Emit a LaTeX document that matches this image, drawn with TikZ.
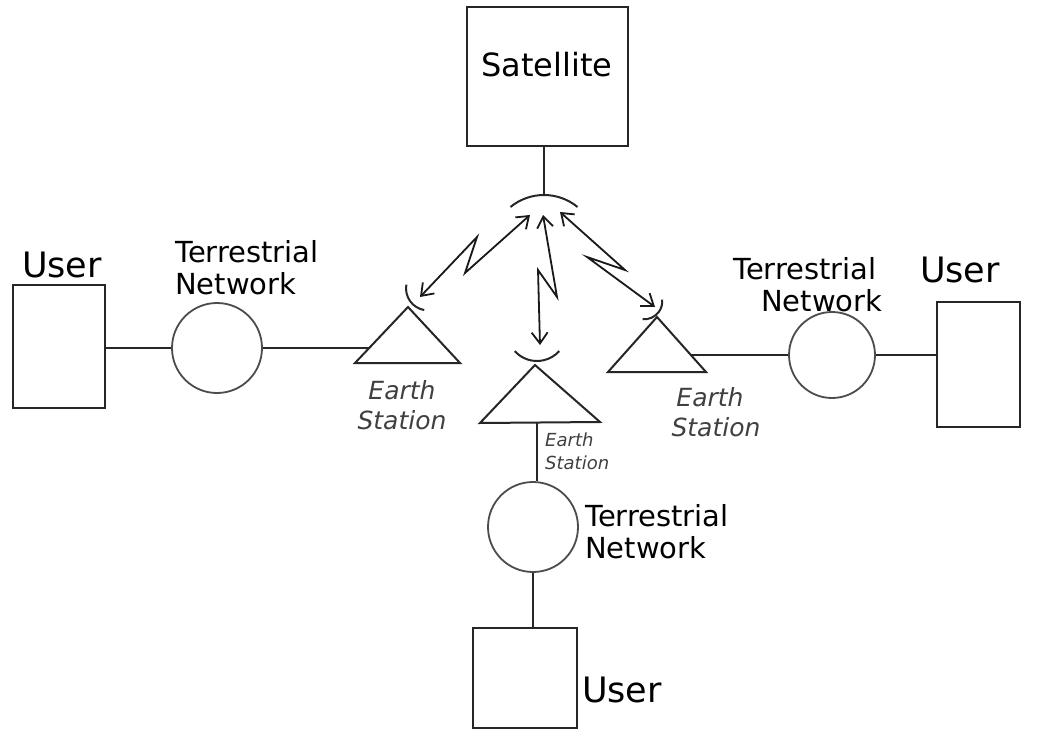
\documentclass[tikz,border=0pt]{standalone}
\usepackage{fontspec}
\setmainfont{DejaVu Sans}
\usetikzlibrary{arrows.meta}
\begin{document}
\begin{tikzpicture}[x=1pt,y=1pt,
  ln/.style={line width=2pt, black!85},
  boxn/.style={draw, line width=2pt, black!85, inner sep=0pt},
  circn/.style={draw, circle, line width=1.8pt, black!70, inner sep=0pt, minimum size=90pt},
  lbl/.style={font=\fontsize{29}{32}\selectfont, inner sep=0pt, align=left},
  usr/.style={font=\fontsize{35}{38}\selectfont, inner sep=0pt},
  es/.style={font=\itshape\fontsize{25}{30}\selectfont, inner sep=0pt, align=center, black!75},
  zz/.style={line width=1.8pt, black!90, {Straight Barb[length=11pt,width=16pt]}-{Straight Barb[length=11pt,width=16pt]}}]
\useasboundingbox (0,0) rectangle (1043,732);
\fill[white] (0,0) rectangle (1043,732);

% Satellite
\node[boxn, minimum width=161pt, minimum height=139pt] (sat) at (547.5,655.5) {};
\node[lbl, font=\fontsize{32}{34}\selectfont] (satlbl) at (547,667) {Satellite};
\coordinate (sd) at (544,537);
\draw[ln] (sat.south -| sd) -- (sd);
\draw[ln] ([shift={(270:52.8)}]sd) ++(50.6:52.8) arc[start angle=50.6, end angle=129.4, radius=52.8];

% Left earth station
\coordinate (lA) at (408,425);
\coordinate (lL) at (355,369);
\coordinate (lR) at (460,369);
\draw[ln] (lL) -- (lA) -- (lR) -- cycle;
\coordinate (ld) at (410,431);
\draw[ln] ([shift={(35:22)}]ld) ++(170:22) arc[start angle=170, end angle=260, radius=22];
\coordinate (lin) at (369,384);

% Middle earth station
\coordinate (mA) at (535,367);
\coordinate (mL) at (480,309);
\coordinate (mR) at (600,310);
\coordinate (mB) at (537,309.5);
\draw[ln] (mL) -- (mA) -- (mR) -- cycle;
\coordinate (md) at (537,371);
\draw[ln] ([shift={(90:30)}]md) ++(222:30) arc[start angle=222, end angle=318, radius=30];

% Right earth station
\coordinate (rA) at (657,415);
\coordinate (rL) at (608,360);
\coordinate (rR) at (706,360);
\draw[ln] (rL) -- (rA) -- (rR) -- cycle;
\coordinate (rd) at (657,418);
\draw[ln] ([shift={(135:18)}]rd) ++(265:18) arc[start angle=265, end angle=365, radius=18];
\coordinate (rout) at (691,377);

% Radio links
\draw[zz] (420,435) -- (477,495) -- (465,459) -- (530,517);
\draw[zz] (543,517) -- (557,435) -- (538,462) -- (540,387);
\draw[zz] (560,520) -- (625,462) -- (587,475) -- (655,425);

% Left side
\node[boxn, minimum width=92pt, minimum height=123pt] (lUser) at (59,385.5) {};
\node[circn] (lNet) at (217,384) {};
\draw[ln] (lUser.east |- lNet.west) -- (lNet.west);
\draw[ln] (lNet.east) -- (lin);
\node[usr] (lUserT) at (62,467) {User};
\node[lbl, anchor=west] (lNetT) at (175,464) {Terrestrial\\Network};
\node[es] (lEST) at (402,327) {Earth\\Station};

% Right side
\node[circn, minimum size=86pt] (rNet) at (832,377) {};
\node[boxn, minimum width=83pt, minimum height=125pt] (rUser) at (978.5,368) {};
\draw[ln] (rout) -- (rNet.west);
\draw[ln] (rNet.east) -- (rUser.west |- rNet.east);
\node[lbl, anchor=west] (rNetT) at (733,447) {Terrestrial\\\hspace*{28pt}Network};
\node[usr] (rUserT) at (960,462) {User};
\node[es] (rEST) at (710,320) {Earth\\\hspace*{12pt}Station};

% Bottom
\node[circn] (bNet) at (533,205) {};
\node[boxn, minimum width=104pt, minimum height=100pt] (bUser) at (525,54) {};
\draw[ln] (mB) -- (bNet.north -| mB);
\draw[ln] (bNet.south) -- (bUser.north -| bNet.south);
\node[es, font=\itshape\fontsize{18}{23}\selectfont, anchor=west, align=left] (bEST) at (545,281) {Earth\\Station};
\node[lbl, anchor=west] (bNetT) at (585,200) {Terrestrial\\Network};
\node[usr] (bUserT) at (622,42) {User};
\end{tikzpicture}
\end{document}
